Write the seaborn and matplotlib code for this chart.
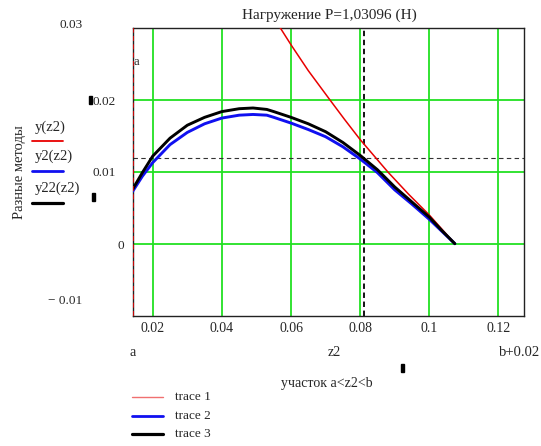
import matplotlib
matplotlib.use("Agg")
import matplotlib.pyplot as plt
from matplotlib.lines import Line2D
from matplotlib.patches import Rectangle
import seaborn as sns
import pandas as pd

# ---------------- data ----------------
a_val = 0.0142
b_val = 0.1074
vline_x = 0.081
hline_y = 0.0119

z2_curve = [0.0142, 0.017, 0.020, 0.025, 0.030, 0.035, 0.040, 0.045, 0.049, 0.053,
            0.055, 0.060, 0.065, 0.070, 0.075, 0.080, 0.085, 0.090, 0.095, 0.100,
            0.1037, 0.1074]
y22_vals = [0.0076, 0.0099, 0.0122, 0.0147, 0.0165, 0.0176, 0.0184, 0.0188, 0.0189, 0.0187,
            0.0184, 0.0176, 0.0167, 0.0156, 0.0141, 0.0123, 0.0103, 0.0079, 0.0058, 0.0037,
            0.0018, 0.0]
y2_vals = [0.0073, 0.0094, 0.0113, 0.0138, 0.0155, 0.0167, 0.0175, 0.0179, 0.0180, 0.0179,
           0.0176, 0.0168, 0.0159, 0.0149, 0.0135, 0.0118, 0.0099, 0.0075, 0.0055, 0.0034,
           0.0017, 0.0]
z2_red = [0.0550, 0.0571, 0.0600, 0.0650, 0.0713, 0.0755, 0.0800, 0.0880, 0.0940, 0.1000,
          0.1074]
y_red = [0.0315, 0.0299, 0.0277, 0.0241, 0.0200, 0.0173, 0.0145, 0.0100, 0.0069, 0.0040,
         0.0]

xticks = [0.02, 0.04, 0.06, 0.08, 0.1, 0.12]
xtick_labels = ["0.02", "0.04", "0.06", "0.08", "0.1", "0.12"]
ygrid = [0.0, 0.01, 0.02]
ytick_vals = [0.03, 0.02, 0.01, 0.0, -0.01]
ytick_labels = ["0.03", "0.02", "0.01", "0", "\u2212 0.01"]
series_names = ["y(z2)", "y2(z2)", "y22(z2)"]
trace_names = ["trace 1", "trace 2", "trace 3"]

title = "Нагружение P=1,03096 (Н)"
ylabel = "Разные методы"
xlabel = "участок a<z2<b"

# ---------------- style ----------------
sns.set_theme(style="white")
plt.rcParams["font.family"] = ["Liberation Serif", "DejaVu Serif"]
plt.rcParams["font.size"] = 10

W, H = 541, 446
fig = plt.figure(figsize=(W / 100, H / 100), dpi=100)
L, R, T, B = 132.7, 524.0, 28.3, 315.5
ax = fig.add_axes([L / W, 1 - B / H, (R - L) / W, (B - T) / H])

RED = "#e80000"
BLUE = "#1010f0"
GREEN = "#22e022"

ax.set_xlim(a_val, b_val + 0.02)
ax.set_ylim(-0.01, 0.03)

for xv in xticks:
    ax.axvline(xv, color=GREEN, lw=1.3, zorder=1)
for yv in ygrid:
    ax.axhline(yv, color=GREEN, lw=1.3, zorder=1)

ax.axvline(vline_x, color="black", lw=1.3, ls=(0, (3, 2)), zorder=2)
ax.axhline(hline_y, color="#333333", lw=0.8, ls=(0, (4, 3)), zorder=2)

df_red = pd.DataFrame({"z2": z2_red, "y": y_red})
df_curve = pd.DataFrame({"z2": z2_curve, "y2": y2_vals, "y22": y22_vals})
sns.lineplot(data=df_red, x="z2", y="y", color=RED, lw=1.1, ax=ax, zorder=3)
sns.lineplot(data=df_curve, x="z2", y="y2", color=BLUE, lw=2.1, ax=ax, zorder=4)
sns.lineplot(data=df_curve, x="z2", y="y22", color="black", lw=2.1, ax=ax, zorder=5)

ax.axvline(a_val, color=RED, lw=1.2, ls=(0, (3, 2)), zorder=6)

for s in ax.spines.values():
    s.set_color("#222222")
    s.set_linewidth(1.0)

ax.set_xticks(xticks)
ax.set_xticklabels(xtick_labels, fontsize=10)
ax.set_yticks([])
ax.tick_params(axis="x", length=0, pad=5)
ax.set_xlabel("")
ax.set_ylabel("")

# y tick labels (Mathcad-like placement)
yoff = [(-50, 3), (-17, -2), (-17, -1), (-9, -2), (-50, 15)]
for v, lab, (dx, dy) in zip(ytick_vals, ytick_labels, yoff):
    ax.annotate(lab, xy=(0, v), xycoords=("axes fraction", "data"),
                xytext=(dx, dy), textcoords="offset pixels",
                ha="right", va="center", fontsize=9.5)

ax.annotate("a", xy=(0, 1), xycoords="axes fraction", xytext=(1, -34),
            textcoords="offset pixels", ha="left", va="center", fontsize=9)

# x range labels
ax.annotate("a", xy=(0, 0), xycoords="axes fraction", xytext=(0, -37),
            textcoords="offset pixels", ha="center", va="center", fontsize=10)
ax.annotate("z2", xy=(0.5, 0), xycoords="axes fraction", xytext=(6, -37),
            textcoords="offset pixels", ha="center", va="center", fontsize=10)
ax.annotate("b+0.02", xy=(1, 0), xycoords="axes fraction", xytext=(16, -37),
            textcoords="offset pixels", ha="right", va="center", fontsize=10.5)

def fx(px):
    return px / W

def fy(py):
    return 1 - py / H

fig.text(fx(329), fy(15), title, ha="center", va="center", fontsize=11)
fig.text(fx(327), fy(383), xlabel, ha="center", va="center", fontsize=10)
fig.text(fx(20), fy(172), ylabel, ha="center", va="center", rotation=90, fontsize=10.5)

# left legend
left_colors = [RED, BLUE, "black"]
left_lw = [1.3, 2.0, 2.3]
label_y = [127, 156, 188]
line_y = [141, 171, 203]
for name, c, lw_, ty, ly in zip(series_names, left_colors, left_lw, label_y, line_y):
    fig.text(fx(35), fy(ty), name, ha="left", va="center", fontsize=10.5)
    fig.add_artist(Line2D([fx(32), fx(63)], [fy(ly), fy(ly)], color=c, lw=lw_))

# bottom legend
bot_colors = ["#f07070", BLUE, "black"]
bot_lw = [1.0, 2.0, 2.3]
bot_y = [397, 416, 434]
for name, c, lw_, yy in zip(trace_names, bot_colors, bot_lw, bot_y):
    fig.add_artist(Line2D([fx(132), fx(163)], [fy(yy), fy(yy)], color=c, lw=lw_))
    fig.text(fx(175), fy(yy), name, ha="left", va="center", fontsize=9.5)

# small black marks
for (px, py) in [(89, 96), (92, 193), (401, 364)]:
    fig.add_artist(Rectangle((fx(px), fy(py + 8)), 3 / W, 8 / H,
                             color="black", transform=fig.transFigure))

fig.savefig("out.png", dpi=100)
